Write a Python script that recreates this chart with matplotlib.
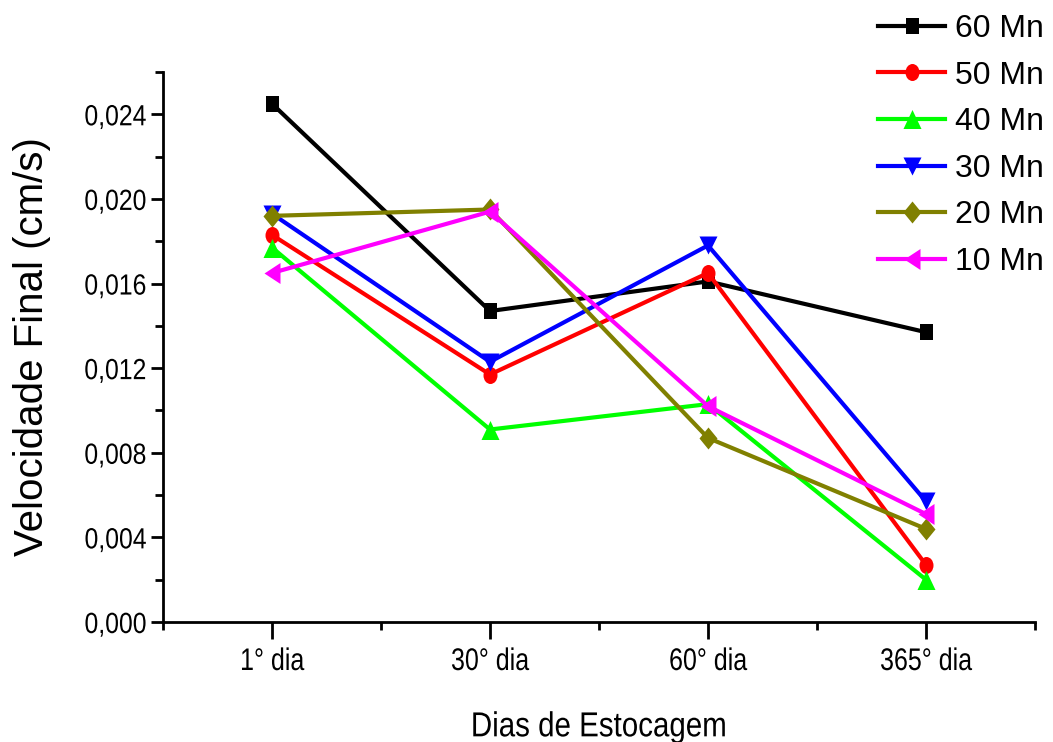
import matplotlib
matplotlib.use("Agg")
import numpy as np
import matplotlib.pyplot as plt
from matplotlib.path import Path
from matplotlib.transforms import Affine2D
from matplotlib.patheffects import AbstractPathEffect
from matplotlib.ticker import FixedLocator, MultipleLocator

# Storage days (categories) and final velocity (cm/s) per series
days = ["1° dia", "30° dia", "60° dia", "365° dia"]
series_names = ["60 Mn", "50 Mn", "40 Mn", "30 Mn", "20 Mn", "10 Mn"]
v60 = [0.0245, 0.0147, 0.0161, 0.0137]
v50 = [0.0183, 0.0117, 0.0165, 0.0027]
v40 = [0.0177, 0.0091, 0.0103, 0.0020]
v30 = [0.0193, 0.0123, 0.0178, 0.0057]
v20 = [0.0192, 0.0195, 0.0087, 0.0044]
v10 = [0.0165, 0.0194, 0.0102, 0.0051]
ytick_values = [0.000, 0.004, 0.008, 0.012, 0.016, 0.020, 0.024]
ytick_labels = ["0,000", "0,004", "0,008", "0,012", "0,016", "0,020", "0,024"]


class Squeeze(AbstractPathEffect):
    """Draw text narrower than the font, keeping one edge (or the centre) fixed."""

    def __init__(self, sx, anchor="center"):
        super().__init__()
        self.sx = sx
        self.anchor = anchor

    def draw_path(self, renderer, gc, tpath, affine, rgbFace=None):
        ext = tpath.get_extents()
        if self.anchor == "right":
            cx = ext.x1
        elif self.anchor == "left":
            cx = ext.x0
        else:
            cx = 0.5 * (ext.x0 + ext.x1)
        t = Affine2D().translate(-cx, 0).scale(self.sx, 1).translate(cx, 0) + affine
        renderer.draw_path(gc, tpath, t, rgbFace)


def poly_marker(pts):
    pts = np.asarray(pts, dtype=float)
    verts = np.vstack([pts, pts[:1]])
    codes = [Path.MOVETO] + [Path.LINETO] * (len(pts) - 1) + [Path.CLOSEPOLY]
    return Path(verts, codes)


def ellipse_marker(w, h):
    c = Path.unit_circle()
    return Path(c.vertices * [w / 2, h / 2], c.codes)


# Slightly tall symbols (width x height, in pixels)
m_square = poly_marker([(-6.5, -8), (6.5, -8), (6.5, 8), (-6.5, 8)])
m_circle = ellipse_marker(14, 17)
m_up = poly_marker([(-9, -9.5), (9, -9.5), (0, 9.5)])
m_down = poly_marker([(-9, 9), (9, 9), (0, -9)])
m_diamond = poly_marker([(0, -11), (9, 0), (0, 11), (-9, 0)])
m_left = poly_marker([(-8, 0), (8, 10.5), (8, -10.5)])

values = [v60, v50, v40, v30, v20, v10]
colors = ["#000000", "#ff0000", "#00ff00", "#0000ff", "#808000", "#ff00ff"]
markers = [m_square, m_circle, m_up, m_down, m_diamond, m_left]
msizes = [16 * 0.72, 17 * 0.72, 19 * 0.72, 18 * 0.72, 22 * 0.72, 21 * 0.72]

regular = ["Liberation Sans", "DejaVu Sans"]

fig = plt.figure(figsize=(10.53, 7.42), dpi=100)
ax = fig.add_axes([163 / 1053, 1 - 622 / 742, (1035 - 163) / 1053, (622 - 72) / 742])

x = list(range(1, len(days) + 1))
handles = []
for vals, c, m, ms, name in zip(values, colors, markers, msizes, series_names):
    h, = ax.plot(x, vals, color=c, marker=m, markersize=ms, linewidth=3,
                 markeredgewidth=0, label=name, clip_on=False)
    handles.append(h)

ax.set_xlim(0.5, 4.5)
ax.set_ylim(0, 0.026)

ax.xaxis.set_major_locator(FixedLocator(x))
ax.xaxis.set_minor_locator(FixedLocator([0.5, 1.5, 2.5, 3.5, 4.5]))
ax.set_xticklabels(days, family=regular, fontsize=22.5,
                   path_effects=[Squeeze(0.8, "center")])
ax.yaxis.set_major_locator(FixedLocator(ytick_values))
ax.yaxis.set_minor_locator(MultipleLocator(0.002))
ax.set_yticklabels(ytick_labels, family=regular, fontsize=21,
                   path_effects=[Squeeze(0.85, "right")])

for side in ("top", "right"):
    ax.spines[side].set_visible(False)
for side in ("left", "bottom"):
    ax.spines[side].set_linewidth(2)

ax.tick_params(axis="x", which="major", direction="out", length=12, width=2, pad=6)
ax.tick_params(axis="x", which="minor", direction="out", length=6, width=2)
ax.tick_params(axis="y", which="major", direction="out", length=9, width=2, pad=3)
ax.tick_params(axis="y", which="minor", direction="out", length=6, width=2)

ax.set_xlabel("Dias de Estocagem", family=regular, fontsize=25, labelpad=24,
              path_effects=[Squeeze(0.85, "center")])
ax.set_ylabel("Velocidade Final (cm/s)", family=regular, fontsize=29, labelpad=16)

fig.legend(handles=handles, loc="upper left",
           bbox_to_anchor=(878 / 1053, 1 - 14 / 742),
           frameon=False, prop={"family": regular, "size": 23},
           handlelength=2.1, handletextpad=0.3, labelspacing=0.52,
           borderpad=0, borderaxespad=0)

fig.savefig("out.png", dpi=100)
